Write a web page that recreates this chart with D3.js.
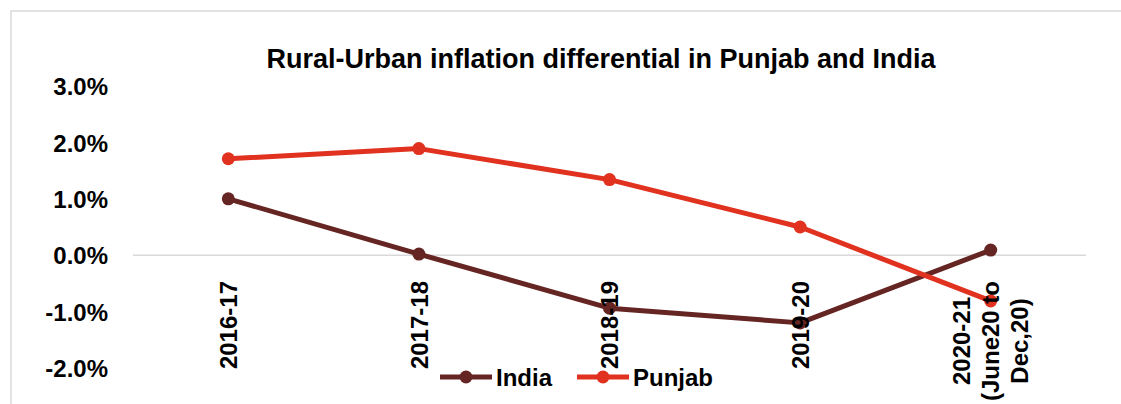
<!DOCTYPE html>
<html>
<head>
<meta charset="utf-8">
<script src="https://cdn.jsdelivr.net/npm/d3@7"></script>
<style>
  body { margin: 0; background: #fff; }
  text { font-family: Arial, "Liberation Sans", sans-serif; font-weight: bold; fill: #000; }
</style>
</head>
<body>
<div id="chart"></div>
<script>
// chart data
const categories = ["2016-17", "2017-18", "2018-19", "2019-20", "2020-21\n(June20 to\nDec,20)"];
const india = [1.0, 0.02, -0.94, -1.2, 0.09];
const punjab = [1.71, 1.89, 1.34, 0.5, -0.81];
const yTicks = [-2, -1, 0, 1, 2, 3];

const series = [
  { name: "India", values: india, color: "#652523" },
  { name: "Punjab", values: punjab, color: "#E1311F" }
];

const width = 1121;
const height = 404;

const svg = d3.select("#chart")
  .append("svg")
  .attr("width", width)
  .attr("height", height);

// outer chart border (only top and left are in view)
svg.append("rect")
  .attr("x", 11)
  .attr("y", 11)
  .attr("width", width)
  .attr("height", height)
  .attr("fill", "none")
  .attr("stroke", "#d9d9d9")
  .attr("stroke-width", 1.5);

// title
svg.append("text")
  .attr("x", 601)
  .attr("y", 68)
  .attr("text-anchor", "middle")
  .style("font-size", "27px")
  .text("Rural-Urban inflation differential in Punjab and India");

// scales
const x = d3.scalePoint()
  .domain(categories)
  .range([133, 1086])
  .padding(0.5);

const y = d3.scaleLinear()
  .domain([-2, 3])
  .range([368, 86]);

// y axis labels (plain hyphen for negatives, like the original)
const yAxis = d3.axisLeft(y)
  .tickValues(yTicks)
  .tickSize(0)
  .tickPadding(0)
  .tickFormat(d => d.toFixed(1) + "%");

svg.append("g")
  .attr("transform", "translate(108,0)")
  .call(yAxis)
  .call(g => g.select(".domain").remove())
  .selectAll("text")
  .style("font-size", "24px")
  .attr("dy", "0.36em");

// zero line
svg.append("line")
  .attr("x1", 133)
  .attr("x2", 1086)
  .attr("y1", y(0))
  .attr("y2", y(0))
  .attr("stroke", "#d9d9d9")
  .attr("stroke-width", 1.5);

// lines and markers
const line = d3.line()
  .x((d, i) => x(categories[i]))
  .y(d => y(d));

series.forEach(s => {
  svg.append("path")
    .datum(s.values)
    .attr("fill", "none")
    .attr("stroke", s.color)
    .attr("stroke-width", 5)
    .attr("stroke-linejoin", "round")
    .attr("d", line);

  svg.append("g")
    .selectAll("circle")
    .data(s.values)
    .enter()
    .append("circle")
    .attr("cx", (d, i) => x(categories[i]))
    .attr("cy", d => y(d))
    .attr("r", 6.5)
    .attr("fill", s.color);
});

// x labels, rotated, lines centred within the block of the longest line
const labelTop = 281;
const lineGap = 29;
categories.forEach(c => {
  const lines = c.split("\n");
  const g = svg.append("g");
  const texts = lines.map((t, i) => g.append("text")
    .style("font-size", "24px")
    .attr("text-anchor", "middle")
    .attr("dy", "0.36em")
    .text(t));
  const maxLen = d3.max(texts, t => t.node().getComputedTextLength());
  const cy = labelTop + maxLen / 2;
  texts.forEach((t, i) => {
    const cx = x(c) + (i - (lines.length - 1) / 2) * lineGap;
    t.attr("transform", `translate(${cx},${cy}) rotate(-90)`);
  });
});

// legend
const legend = svg.append("g").attr("transform", "translate(440,377)");
const legendX = [0, 137];
series.forEach((s, i) => {
  const lg = legend.append("g").attr("transform", `translate(${legendX[i]},0)`);
  lg.append("line")
    .attr("x1", 0).attr("x2", 52)
    .attr("stroke", s.color)
    .attr("stroke-width", 5);
  lg.append("circle")
    .attr("cx", 26)
    .attr("r", 6.5)
    .attr("fill", s.color);
  lg.append("text")
    .attr("x", 56)
    .attr("dy", "0.36em")
    .style("font-size", "24px")
    .text(s.name);
});
</script>
</body>
</html>
